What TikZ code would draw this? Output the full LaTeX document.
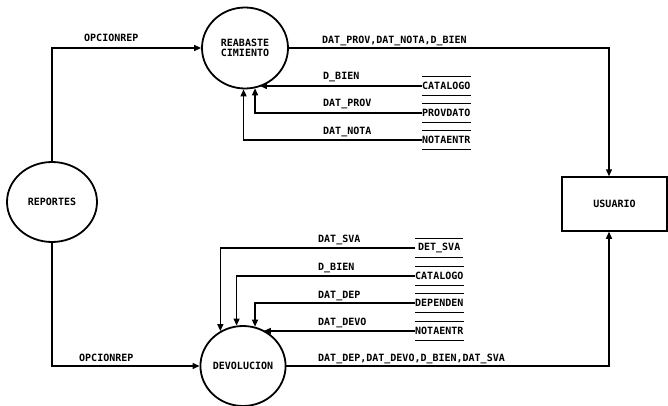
\documentclass[tikz,border=0pt]{standalone}
\usepackage{fontspec}
\newfontfamily\dfdfont{DejaVu Sans Mono}
\usetikzlibrary{arrows.meta, shapes.geometric}

\tikzset{
  proc/.style={ellipse, draw, line width=1.8pt, minimum width=86pt, minimum height=81pt, inner sep=0pt, align=center},
  ext/.style={rectangle, draw, line width=1.5pt, minimum width=105pt, minimum height=54pt},
  store/.style={minimum width=48pt, minimum height=19pt, inner sep=0pt, anchor=west},
  storeline/.style={line width=1.3pt},
  flow/.style={line width=1.3pt, -{Triangle[length=7pt, width=6pt]}},
  lbl/.style={anchor=base west, inner sep=0pt},
}

\begin{document}
\begin{tikzpicture}[x=1pt, y=-1pt, font=\dfdfont\bfseries\fontsize{10}{10}\selectfont]
  \useasboundingbox (0,0) rectangle (668,406);

  % --- procesos y entidad externa ---
  \node[proc] (reab) at (245,48) {REABASTE\\CIMIENTO};
  \node[proc, minimum width=90pt, minimum height=80pt] (rep) at (52,202) {REPORTES};
  \node[proc, minimum width=82pt, minimum height=80pt] (dev) at (243,366) {DEVOLUCION};
  \node[ext] (usr) at (614.5,204) {USUARIO};

  % --- almacenes ---
  \foreach \n/\x/\y/\t in {cat1/422/86/CATALOGO, prov/422/113/PROVDATO, nota1/422/140/NOTAENTR,
                           svad/415/248/DET\_SVA, cat2/415/276/CATALOGO, dep/415/303/DEPENDEN, nota2/415/331/NOTAENTR}
    \node[store] (\n) at (\x,\y) {\t};
  \foreach \n in {cat1, prov, nota1, svad, cat2, dep, nota2}
    \draw[storeline] (\n.north west) -- (\n.north east) (\n.south west) -- (\n.south east);

  % --- flujos de REPORTES ---
  \draw[flow] (rep.north) |- (reab.west);
  \draw[flow] (rep.south) |- (dev.west);
  \node[lbl] (l1) at (84,42) {OPCIONREP};
  \node[lbl] (l2) at (79,361) {OPCIONREP};

  % --- flujos hacia REABASTECIMIENTO ---
  \draw[flow] (cat1.west) -- (cat1.west -| reab.-69);
  \draw[flow] (prov.west) -| (reab.-76);
  \draw[flow] (nota1.west) -| (reab.-92);
  \node[lbl] (l3) at (323,80) {D\_BIEN};
  \node[lbl] (l4) at (323,107) {DAT\_PROV};
  \node[lbl] (l5) at (323,135) {DAT\_NOTA};

  % --- flujos hacia DEVOLUCION ---
  \draw[flow] (svad.west) -| (dev.123);
  \draw[flow] (cat2.west) -| (dev.99);
  \draw[flow] (dep.west) -| (dev.73);
  \draw[flow] (nota2.west) -- (nota2.west -| dev.60);
  \node[lbl] (l6) at (318,242) {DAT\_SVA};
  \node[lbl] (l7) at (318,270) {D\_BIEN};
  \node[lbl] (l8) at (318,298) {DAT\_DEP};
  \node[lbl] (l9) at (318,325) {DAT\_DEVO};

  % --- flujos hacia USUARIO ---
  \draw[flow] (reab.east) -| ([xshift=-5.5pt]usr.north);
  \draw[flow] (dev.east) -| ([xshift=-5.5pt]usr.south);
  \node[lbl] (l10) at (322,44) {DAT\_PROV,DAT\_NOTA,D\_BIEN};
  \node[lbl] (l11) at (318,361) {DAT\_DEP,DAT\_DEVO,D\_BIEN,DAT\_SVA};
\end{tikzpicture}
\end{document}
